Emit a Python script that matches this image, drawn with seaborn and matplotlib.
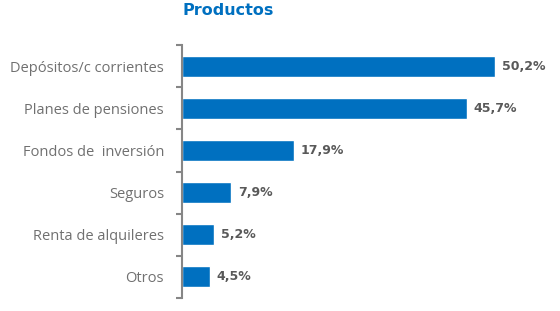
import numpy as np
import pandas as pd
import matplotlib
matplotlib.use("Agg")
import matplotlib.pyplot as plt
import seaborn as sns

# Data
categories = ["Depósitos/c corrientes", "Planes de pensiones", "Fondos de  inversión",
              "Seguros", "Renta de alquileres", "Otros"]
values = [50.2, 45.7, 17.9, 7.9, 5.2, 4.5]
value_labels = ["50,2%", "45,7%", "17,9%", "7,9%", "5,2%", "4,5%"]

df = pd.DataFrame({"Producto": categories, "Valor": values})

sns.set_style("white")
plt.rcParams["font.family"] = ["Open Sans", "DejaVu Sans"]

fig = plt.figure(figsize=(5.6, 3.11), dpi=100)
ax = fig.add_axes([0.325, 0.042, 0.668, 0.813])

sns.barplot(data=df, x="Valor", y="Producto", color="#0070C0", width=0.5,
            saturation=1, ax=ax)

ax.set_xlim(0, 60)
ax.set_ylim(len(categories) - 0.5, -0.5)
ax.set_xlabel("")
ax.set_ylabel("")
ax.set_xticks([])

for s in ["top", "right", "bottom"]:
    ax.spines[s].set_visible(False)
ax.spines["left"].set_color("#868686")
ax.spines["left"].set_linewidth(1.5)

ax.tick_params(axis="y", which="major", left=False, length=0, pad=13,
               labelsize=10.5, labelcolor="#707070")
ax.set_yticks(np.arange(-0.5, len(categories), 1.0), minor=True)
ax.tick_params(axis="y", which="minor", left=True, length=4, width=1.5,
               color="#868686")

for i, (v, lab) in enumerate(zip(values, value_labels)):
    ax.text(v + 1.1, i, lab, va="center", ha="left", fontsize=9,
            fontweight="bold", color="#595959", family="DejaVu Sans")

fig.text(228 / 560, 1 - 10.5 / 311, "Productos", ha="center", va="center",
         fontsize=11.5, fontweight="bold", color="#0070C0", family="DejaVu Sans")

fig.savefig("out.png", dpi=100)
plt.close(fig)
